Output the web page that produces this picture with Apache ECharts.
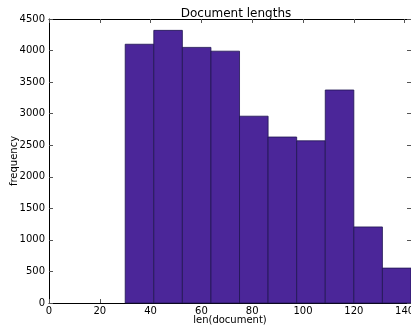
<!DOCTYPE html>
<html>
<head>
<meta charset="utf-8">
<script src="https://cdn.jsdelivr.net/npm/echarts@6/dist/echarts.min.js"></script>
<style>
  html, body { margin: 0; padding: 0; background: #fff; }
  #chart { width: 411px; height: 326px; }
</style>
</head>
<body>
<div id="chart"></div>
<script>
// histogram bins (left edges) and counts
var binStarts = [30, 41.25, 52.5, 63.75, 75, 86.25, 97.5, 108.75, 120, 131.25];
var binWidth = 11.25;
var counts = [4100, 4320, 4050, 3990, 2960, 2630, 2570, 3375, 1205, 553];

var xTicks = [0, 20, 40, 60, 80, 100, 120, 140];
var yTicks = [0, 500, 1000, 1500, 2000, 2500, 3000, 3500, 4000, 4500];

var font = 'DejaVu Sans';
var chart = echarts.init(document.getElementById('chart'));

var histData = binStarts.map(function (s, i) {
    return [s, s + binWidth, counts[i]];
});

function tickAxis(extra) {
    return Object.assign({
        axisLine: { show: true, onZero: false, lineStyle: { color: '#000', width: 1 } },
        axisTick: { show: true, inside: true, length: 4, lineStyle: { color: '#555' } },
        splitLine: { show: false }
    }, extra);
}

chart.setOption({
    animation: false,
    title: {
        text: 'Document lengths',
        left: 231, top: 3, textAlign: 'center',
        textStyle: { fontFamily: font, fontSize: 12, fontWeight: 'normal', color: '#000' }
    },
    grid: { left: 49, right: 0, top: 19, bottom: 23, outerBoundsMode: 'none', containLabel: false },
    xAxis: [
        tickAxis({
            type: 'value', min: 0, max: 142.5, interval: 20,
            name: 'len(document)', nameLocation: 'middle', nameGap: 12, nameMoveOverlap: false,
            nameTextStyle: { fontFamily: font, fontSize: 10, color: '#000' },
            axisLabel: { fontFamily: font, fontSize: 10, color: '#000', margin: 3,
                formatter: function (v) { return xTicks.indexOf(v) >= 0 ? String(v) : ''; } }
        }),
        tickAxis({
            type: 'value', min: 0, max: 142.5, interval: 20, position: 'top',
            axisLabel: { show: false }
        })
    ],
    yAxis: [
        tickAxis({
            type: 'value', min: 0, max: 4500, interval: 500,
            name: 'frequency', nameLocation: 'middle', nameGap: 30, nameMoveOverlap: false,
            nameTextStyle: { fontFamily: font, fontSize: 10, color: '#000' },
            axisLabel: { fontFamily: font, fontSize: 10, color: '#000', margin: 4,
                formatter: function (v) { return yTicks.indexOf(v) >= 0 ? String(v) : ''; } }
        }),
        tickAxis({
            type: 'value', min: 0, max: 4500, interval: 500, position: 'right',
            axisLabel: { show: false }
        })
    ],
    series: [{
        type: 'custom',
        xAxisIndex: 0,
        yAxisIndex: 0,
        data: histData,
        renderItem: function (params, api) {
            var p0 = api.coord([api.value(0), api.value(2)]);
            var p1 = api.coord([api.value(1), 0]);
            return {
                type: 'rect',
                shape: { x: p0[0], y: p0[1], width: p1[0] - p0[0], height: p1[1] - p0[1] },
                style: { fill: '#4b2699', stroke: '#1f1550', lineWidth: 0.8 }
            };
        }
    }]
});
</script>
</body>
</html>
